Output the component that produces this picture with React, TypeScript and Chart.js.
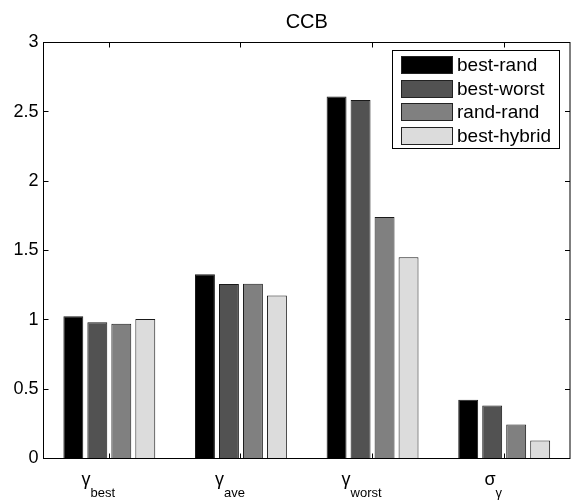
import React, { useEffect, useRef } from "react";
import { Chart, registerables } from "chart.js";

Chart.register(...registerables);

const catMain = ["γ", "γ", "γ", "σ"];
const catSub = ["best", "ave", "worst", "γ"];
const categories = catMain.map((m, i) => m + catSub[i]);

const seriesNames = ["best-rand", "best-worst", "rand-rand", "best-hybrid"];
const bestRand = [1.025, 1.328, 2.61, 0.424];
const bestWorst = [0.982, 1.259, 2.585, 0.383];
const randRand = [0.972, 1.261, 1.742, 0.245];
const bestHybrid = [1.006, 1.175, 1.451, 0.13];
const seriesColors = ["#000000", "#525252", "#808080", "#dcdcdc"];

const yTicks = [0, 0.5, 1, 1.5, 2, 2.5, 3];
const titleText = "CCB";

const FONT = '"Liberation Sans", Arial, Helvetica, sans-serif';

const decorPlugin = {
  id: "matlabDecor",
  afterDraw(chart: any) {
    const { ctx, chartArea: a, scales } = chart;
    const xs = scales.x;
    const ys = scales.y;
    ctx.save();
    ctx.strokeStyle = "#000";
    ctx.lineWidth = 1;
    // frame
    ctx.strokeRect(a.left, a.top, a.right - a.left, a.bottom - a.top);
    // inward ticks
    const tl = 5;
    ctx.beginPath();
    yTicks.forEach((v) => {
      const py = Math.round(ys.getPixelForValue(v) - 0.5) + 0.5;
      ctx.moveTo(a.left, py);
      ctx.lineTo(a.left + tl, py);
      ctx.moveTo(a.right, py);
      ctx.lineTo(a.right - tl, py);
    });
    categories.forEach((_, i) => {
      const px = Math.round(xs.getPixelForTick(i) - 0.5) + 0.5;
      ctx.moveTo(px, a.bottom);
      ctx.lineTo(px, a.bottom - tl);
      ctx.moveTo(px, a.top);
      ctx.lineTo(px, a.top + tl);
    });
    ctx.stroke();

    // title
    ctx.fillStyle = "#000";
    ctx.font = `20px ${FONT}`;
    ctx.textAlign = "center";
    ctx.textBaseline = "alphabetic";
    ctx.fillText(titleText, (a.left + a.right) / 2, 28);

    // x labels with subscripts
    const mainSize = 18;
    const subSize = 13;
    categories.forEach((_, i) => {
      const cx = xs.getPixelForTick(i) - 11;
      ctx.font = `${mainSize}px ${FONT}`;
      const mw = ctx.measureText(catMain[i]).width;
      ctx.font = `${subSize}px ${FONT}`;
      const sw = ctx.measureText(catSub[i]).width;
      const start = cx - (mw + sw) / 2;
      ctx.textAlign = "left";
      ctx.font = `${mainSize}px ${FONT}`;
      ctx.fillText(catMain[i], start, 485);
      ctx.font = `${subSize}px ${FONT}`;
      ctx.fillText(catSub[i], start + mw, 497);
    });

    // legend
    const lx = 392.5, ly = 50.5, lw = 167, lh = 98;
    ctx.fillStyle = "#fff";
    ctx.fillRect(lx, ly, lw, lh);
    ctx.strokeStyle = "#000";
    ctx.strokeRect(lx, ly, lw, lh);
    ctx.font = `19px ${FONT}`;
    ctx.textBaseline = "middle";
    ctx.textAlign = "left";
    chart.data.datasets.forEach((ds: any, i: number) => {
      const cy = 65 + i * 23.6;
      ctx.fillStyle = ds.backgroundColor;
      ctx.fillRect(401, Math.round(cy - 9), 52, 18);
      ctx.strokeStyle = "#222";
      ctx.strokeRect(401.5, Math.round(cy - 9) + 0.5, 51, 17);
      ctx.fillStyle = "#000";
      ctx.fillText(ds.label, 457, cy + 1);
    });
    ctx.restore();
  },
};

export default function App() {
  const ref = useRef<HTMLCanvasElement | null>(null);
  useEffect(() => {
    document.body.style.margin = "0";
    const canvas = ref.current;
    if (!canvas) return;
    const allSeries = [bestRand, bestWorst, randRand, bestHybrid];
    const chart = new Chart(canvas, {
      type: "bar",
      data: {
        labels: categories,
        datasets: allSeries.map((data, i) => ({
          label: seriesNames[i],
          data,
          backgroundColor: seriesColors[i],
          borderColor: "#1a1a1a",
          borderWidth: 1,
          categoryPercentage: 0.729,
          barPercentage: 0.83,
        })),
      },
      options: {
        responsive: false,
        animation: false,
        devicePixelRatio: 1,
        layout: { padding: { left: 0, right: 6, top: 42.5, bottom: 43.5 } },
        plugins: {
          legend: { display: false },
          title: { display: false },
          tooltip: { enabled: false },
        },
        scales: {
          x: {
            display: false,
            offset: true,
          },
          y: {
            min: 0,
            max: 3,
            afterFit: (s: any) => {
              s.width = 43.5;
            },
            afterBuildTicks: (s: any) => {
              s.ticks = yTicks.map((v) => ({ value: v }));
            },
            ticks: {
              padding: 5,
              color: "#000",
              font: { family: FONT, size: 18 },
              callback: (v: any) => String(v),
            },
            grid: { display: false, drawTicks: false },
            border: { display: false },
          },
        },
      },
      plugins: [decorPlugin],
    });
    return () => chart.destroy();
  }, []);
  return (
    <div style={{ width: 576, height: 502 }}>
      <canvas ref={ref} width={576} height={502} style={{ display: "block" }} />
    </div>
  );
}
